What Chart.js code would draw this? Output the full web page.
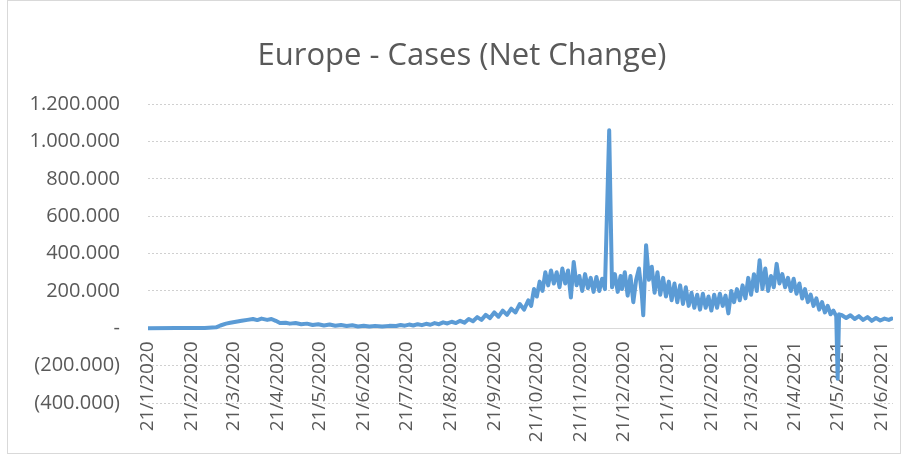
<!DOCTYPE html>
<html>
<head>
<meta charset="utf-8">
<script src="https://cdn.jsdelivr.net/npm/chart.js@4/dist/chart.umd.min.js"></script>
<style>
  html, body { margin: 0; padding: 0; background: #fff; }
  #wrap { position: relative; width: 905px; height: 457px; }
  #frame { position: absolute; left: 7px; top: 0; width: 894px; height: 454px; border: 1px solid #d9d9d9; box-sizing: border-box; }
  canvas { position: absolute; left: 0; top: 0; }
</style>
</head>
<body>
<div id="wrap">
  <div id="frame"></div>
  <canvas id="chart" width="905" height="457"></canvas>
</div>
<script>
// days counted from 21/1/2020
const days = [
  0, 20, 40, 48, 51, 55, 58, 62, 66, 70, 74, 77, 80, 84, 87, 90, 93, 97, 100, 104,
  108, 112, 116, 120, 124, 128, 132, 136, 140, 144, 148, 152, 156, 160, 165, 170, 175, 178, 181, 184,
  187, 190, 193, 196, 199, 202, 205, 208, 211, 214, 217, 220, 223, 226, 229, 232, 235, 238, 241, 244,
  247, 250, 253, 256, 259, 262, 265, 268, 270, 272, 274, 276, 278, 280, 282, 284, 286, 288, 290, 292,
  294, 296, 298, 300, 302, 304, 306, 308, 310, 312, 314, 316, 318, 320, 322, 325, 327, 329, 331, 333,
  334, 336, 338, 340, 342, 344, 346, 348, 349, 351, 353, 355, 357, 359, 361, 363, 365, 367, 369, 371,
  373, 375, 377, 379, 381, 383, 385, 387, 389, 391, 393, 395, 397, 399, 401, 403, 405, 407, 409, 411,
  413, 415, 417, 419, 421, 423, 425, 427, 429, 431, 433, 435, 437, 439, 441, 443, 445, 447, 449, 451,
  453, 455, 457, 459, 461, 463, 465, 467, 469, 471, 473, 475, 477, 479, 481, 483, 485, 486, 487, 489,
  492, 495, 498, 501, 504, 507, 510, 513, 516, 519, 522, 524
];

const cases = [
  0, 1000, 2000, 5000, 15000, 25000, 30000, 35000, 40000, 45000, 50000, 44000, 52000, 45000, 50000, 40000, 28000, 30000, 25000, 28000,
  22000, 25000, 18000, 22000, 15000, 20000, 14000, 18000, 12000, 16000, 10000, 14000, 10000, 13000, 10000, 13000, 12000, 18000, 14000, 20000,
  15000, 22000, 17000, 24000, 19000, 28000, 22000, 32000, 26000, 35000, 28000, 40000, 30000, 50000, 38000, 60000, 45000, 72000, 55000, 85000,
  62000, 95000, 72000, 105000, 85000, 130000, 100000, 150000, 120000, 210000, 170000, 250000, 200000, 300000, 230000, 310000, 240000, 300000, 220000, 320000,
  240000, 310000, 165000, 355000, 230000, 280000, 200000, 290000, 215000, 270000, 195000, 275000, 200000, 265000, 210000, 1060000, 220000, 290000, 195000, 280000,
  210000, 300000, 175000, 280000, 140000, 260000, 320000, 180000, 70000, 445000, 260000, 330000, 190000, 300000, 180000, 270000, 170000, 250000, 150000, 240000,
  140000, 230000, 130000, 220000, 120000, 190000, 110000, 180000, 100000, 185000, 110000, 170000, 95000, 180000, 110000, 185000, 120000, 175000, 80000, 200000,
  140000, 210000, 150000, 230000, 160000, 270000, 180000, 290000, 200000, 365000, 210000, 320000, 200000, 280000, 220000, 345000, 240000, 290000, 220000, 270000,
  200000, 265000, 185000, 240000, 160000, 210000, 140000, 180000, 120000, 160000, 100000, 140000, 85000, 120000, 75000, 95000, 65000, -270000, 75000, 70000,
  55000, 70000, 50000, 65000, 45000, 60000, 40000, 55000, 42000, 52000, 45000, 52000
];

const monthDays = [0, 31, 60, 91, 121, 152, 182, 213, 244, 274, 305, 335, 366, 397, 425, 456, 486, 517];
const monthLabels = [
  "21/1/2020", "21/2/2020", "21/3/2020", "21/4/2020", "21/5/2020", "21/6/2020",
  "21/7/2020", "21/8/2020", "21/9/2020", "21/10/2020", "21/11/2020", "21/12/2020",
  "21/1/2021", "21/2/2021", "21/3/2021", "21/4/2021", "21/5/2021", "21/6/2021"
];

const textColor = "#595959";
const fontFamily = "'Open Sans', sans-serif";

function formatCases(v) {
  if (v === 0) return "-";
  const s = Math.abs(v).toString().replace(/\B(?=(\d{3})+(?!\d))/g, ".");
  return v < 0 ? "(" + s + ")" : s;
}

new Chart(document.getElementById("chart"), {
  type: "line",
  data: {
    datasets: [
      {
        label: "Cases",
        data: days.map((d, i) => ({ x: d, y: cases[i] })),
        borderColor: "#5b9bd5",
        borderWidth: 4,
        pointRadius: 0,
        tension: 0,
        borderJoinStyle: "round",
        borderCapStyle: "round",
      },
    ],
  },
  options: {
    responsive: false,
    animation: false,
    layout: { padding: { left: 31, right: 12, bottom: 54, top: 0 } },
    plugins: {
      legend: { display: false },
      tooltip: { enabled: false },
      title: {
        display: true,
        text: "Europe - Cases (Net Change)",
        color: textColor,
        font: { family: fontFamily, size: 31, weight: "normal" },
        padding: { top: 38, bottom: 29 },
      },
    },
    scales: {
      x: {
        type: "linear",
        position: { y: 0 },
        min: 0,
        max: 525,
        afterBuildTicks: (axis) => {
          axis.ticks = monthDays.map((v) => ({ value: v }));
        },
        afterFit: (axis) => {
          axis.paddingLeft = 0;
          axis.paddingRight = 0;
        },
        grid: { display: false, drawTicks: false },
        border: { display: true, color: "#d9d9d9", width: 1 },
        ticks: {
          minRotation: 90,
          maxRotation: 90,
          padding: 13,
          color: textColor,
          font: { family: fontFamily, size: 19 },
          callback: (value) => monthLabels[monthDays.indexOf(value)],
        },
      },
      y: {
        min: -400000,
        max: 1200000,
        afterFit: (axis) => {
          axis.width = 117;
        },
        grid: { color: "#d0d0d0", drawTicks: false },
        border: { display: false, dash: [2, 2] },
        ticks: {
          stepSize: 200000,
          padding: 28,
          color: textColor,
          font: { family: fontFamily, size: 20 },
          callback: (value) => formatCases(value),
        },
      },
    },
  },
});
</script>
</body>
</html>
